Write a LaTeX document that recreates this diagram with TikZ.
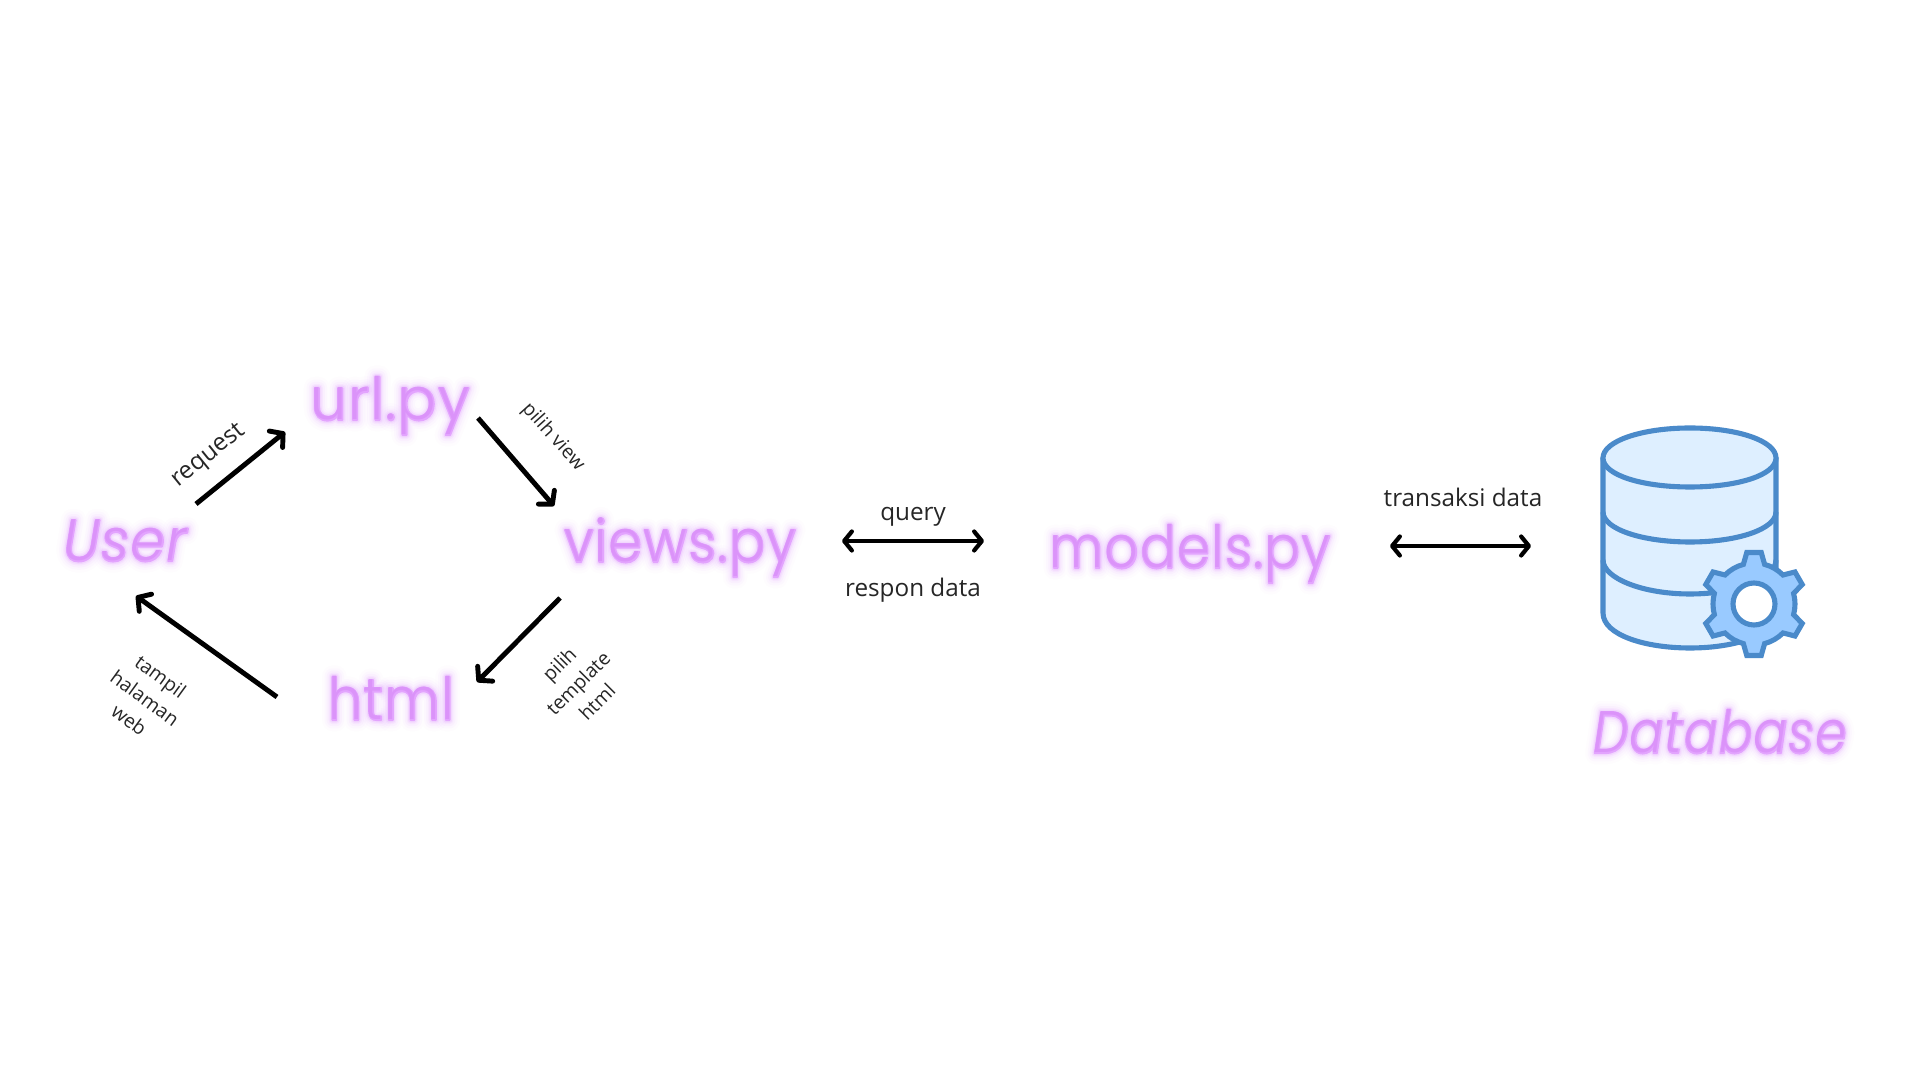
\documentclass[tikz,border=0pt]{standalone}
\usepackage{fontspec}
\setmainfont{Open Sans}
\newfontfamily\glowfont{Poppins Light}[ItalicFont={Poppins Light Italic},LetterSpace=3]
\usetikzlibrary{arrows.meta}
\definecolor{glowc}{HTML}{E3A4FE}
\definecolor{glowd}{HTML}{D88CF8}
\definecolor{dbline}{HTML}{4A8ACA}
\definecolor{dbfill}{HTML}{DEEFFF}
\definecolor{gearfill}{HTML}{99CAFF}
\newcommand\glowlayer[3]{\rlap{\addfontfeature{FakeBold=#1}\pgfsetfillopacity{#2}\pgfsetstrokeopacity{#2}#3}}
\newcommand\glowtext[1]{\pgfsetroundjoin\pgfsetroundcap\color{glowc}%
\glowlayer{38}{.03}{#1}\glowlayer{29}{.05}{#1}\glowlayer{21}{.08}{#1}\glowlayer{14}{.13}{#1}\glowlayer{9}{.22}{#1}\glowlayer{3.8}{1}{#1}%
\pgfsetfillopacity{.7}\pgfsetstrokeopacity{.7}\color{glowd}#1}
\newcommand\gt[1]{-- ({#1-15}:41) -- ({#1-8}:52) -- ({#1+8}:52) -- ({#1+15}:41) arc[start angle={#1+15},end angle={#1+45},radius=41]}
\tikzset{
 x=0.01cm,y=-0.01cm,
 glow/.style={anchor=base,inner sep=0pt,transform shape,font=\glowfont\fontsize{16.6pt}{20pt}\selectfont},
 glowit/.style={glow,font=\glowfont\itshape\fontsize{16.6pt}{20pt}\selectfont},
 lbl/.style={inner sep=0pt,align=center,font=\fontsize{6.9pt}{8.4pt}\selectfont,text=black!85},
 lblsm/.style={lbl,font=\fontsize{5.5pt}{7.6pt}\selectfont},
 conn/.style={draw=black,line width=1.4pt,-{Straight Barb[length=2.6pt,width=6pt,round]}},
 conn2/.style={draw=black,line width=1.2pt,{Straight Barb[length=2.2pt,width=5.4pt,round]}-{Straight Barb[length=2.2pt,width=5.4pt,round]}},
 db/.style={draw=dbline,line width=1.45pt,line join=round},
 gearline/.style={db,line join=miter}
}
\begin{document}
\begin{tikzpicture}
\useasboundingbox[fill=white] (0,0) rectangle (1920,1080);
\begin{scope}[shift={(125,561)},xscale=.94]
\node[glowit] (user) at (0,0) {\glowtext{User}};
\end{scope}
\begin{scope}[shift={(390,420)},xscale=.98]
\node[glow] (url) at (0,0) {\glowtext{url.py}};
\end{scope}
\begin{scope}[shift={(680,562)},xscale=.915]
\node[glow] (views) at (0,0) {\glowtext{views.py}};
\end{scope}
\begin{scope}[shift={(391,720)},xscale=.925]
\node[glow] (html) at (0,0) {\glowtext{html}};
\end{scope}
\begin{scope}[shift={(1190,568)},xscale=.9]
\node[glow] (models) at (0,0) {\glowtext{models.py}};
\end{scope}
\begin{scope}[shift={(1720,753)},xscale=.85]
\node[glowit] (database) at (0,0) {\glowtext{Database}};
\end{scope}
\coordinate (a1) at (196,504); \coordinate (a2) at (285,432);
\coordinate (b1) at (478,418); \coordinate (b2) at (554,506);
\coordinate (c1) at (560,598); \coordinate (c2) at (477,682);
\coordinate (d1) at (277,697); \coordinate (d2) at (136,596);
\coordinate (e1) at (842,541); \coordinate (e2) at (984,541);
\coordinate (f1) at (1390,546); \coordinate (f2) at (1531,546);
\draw[conn] (a1) -- (a2);
\draw[conn] (b1) -- (b2);
\draw[conn] (c1) -- (c2);
\draw[conn] (d1) -- (d2);
\draw[conn2] (e1) -- (e2);
\draw[conn2] (f1) -- (f2);
\node[lbl,rotate=39] (lrequest) at (209,456) {request};
\node[lblsm,rotate=-48] (lview) at (553,437) {pilih view};
\node[lblsm,rotate=45] (ltemplate) at (578,683) {pilih\\template\\html};
\node[lblsm,rotate=-36] (ltampil) at (145,698) {tampil\\halaman\\web};
\node[lbl] (lquery) at (913,517) {query};
\node[lbl] (lrespon) at (913,590) {respon data};
\node[lbl] (ltrans) at (1463,497) {transaksi data};
% database icon
\path[db,fill=dbfill] (1603,458) -- (1603,613) .. controls (1603,635) and (1645,648) .. (1690,648) .. controls (1735,648) and (1776,635) .. (1776,613) -- (1776,458) -- cycle;
\path[db,fill=dbfill] (1603,458) .. controls (1603,441) and (1642,428) .. (1690,428) .. controls (1738,428) and (1776,441) .. (1776,458) .. controls (1776,475) and (1738,487) .. (1690,487) .. controls (1642,487) and (1603,475) .. (1603,458) -- cycle;
\draw[db] (1603,512) .. controls (1603,529) and (1642,542) .. (1690,542) .. controls (1738,542) and (1776,529) .. (1776,512);
\draw[db] (1603,560) .. controls (1603,578) and (1642,594) .. (1690,594) .. controls (1738,594) and (1776,578) .. (1776,560);
\begin{scope}[shift={(1754,604)}]
\path[gearline,fill=gearfill] (15:41) \gt{30} \gt{90} \gt{150} \gt{210} \gt{270} \gt{330} -- cycle;
\path[db,fill=white] (0,0) circle[radius=21];
\end{scope}
\end{tikzpicture}
\end{document}
